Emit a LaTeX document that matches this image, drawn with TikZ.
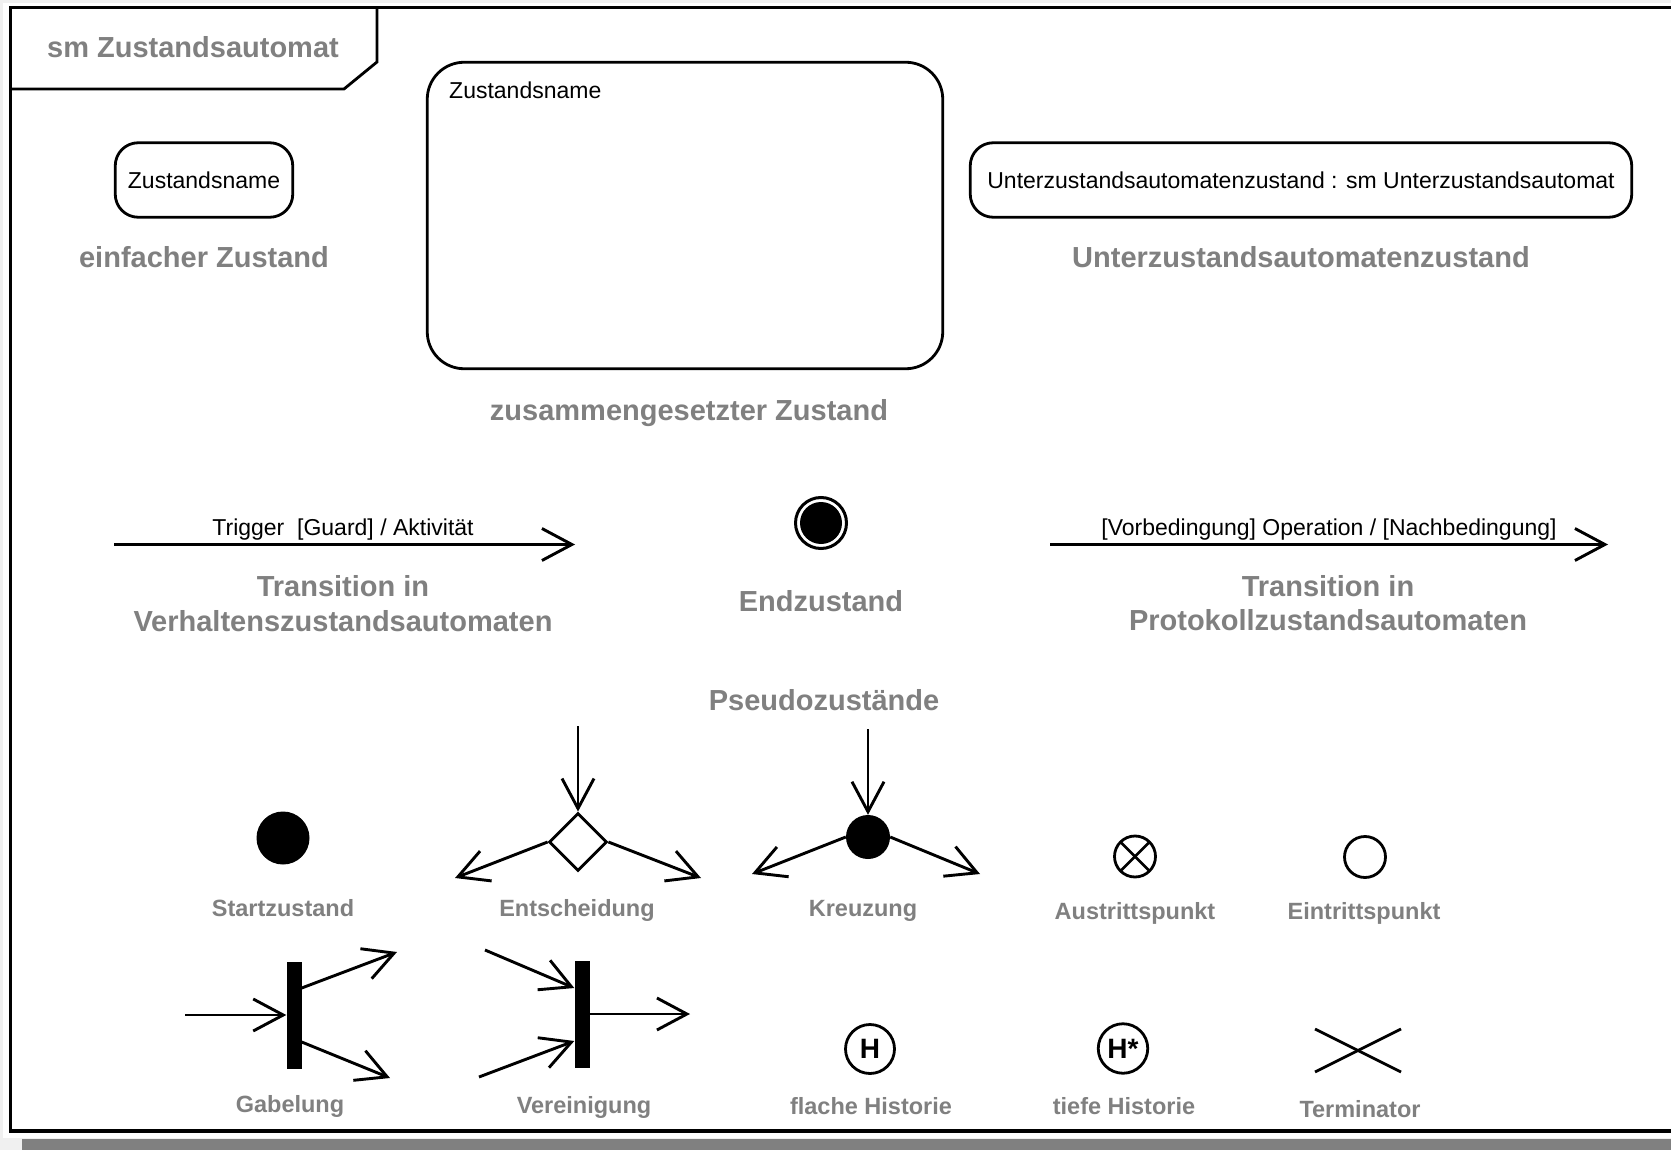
\documentclass[tikz,border=0pt]{standalone}
\usepackage{fontspec}
\setmainfont{Liberation Sans}
\usetikzlibrary{arrows.meta,shapes.geometric}
\definecolor{lblgray}{HTML}{808080}
\definecolor{bgc}{HTML}{F0F0F0}
\begin{document}
\begin{tikzpicture}[x=1pt,y=-1pt,
  lblbig/.style={font=\fontsize{29}{34}\selectfont\bfseries, text=lblgray, inner sep=0pt, text height=21pt, text depth=0pt},
  lblsmall/.style={font=\fontsize{23.5}{28}\selectfont\bfseries, text=lblgray, inner sep=0pt, text height=17pt, text depth=0pt},
  plaintxt/.style={font=\fontsize{23}{27}\selectfont, inner sep=0pt, text height=16.5pt, text depth=0pt},
  statebox/.style={draw, line width=2.8pt, inner sep=0pt, font=\fontsize{23}{27}\selectfont},
  arr/.style={line width=2.9pt, -{Straight Barb[length=30pt,width=32pt]}},
  ln/.style={line width=2.8pt},
]
\useasboundingbox (0,0) rectangle (1671,1150);
% background
\fill[bgc] (0,0) rectangle (1671,1150);
\fill[white] (3,3) rectangle (1671,1138);
\fill[lblgray] (22,1139) rectangle (1671,1150);
% frame
\draw[line width=3.2pt] (1675,7.5) -- (10.5,7.5) -- (10.5,1131) -- (1675,1131);
\draw[line width=2.8pt] (10.5,89) -- (344,89) -- (377,62) -- (377,7.5);
\node[lblbig] (title) at (193,47) {sm Zustandsautomat};

% simple state
\node[statebox, rounded corners=23pt, minimum width=177.5pt, minimum height=74.5pt] (simple) at (204,180) {Zustandsname};
\node[lblbig] (simplelbl) at (204,257) {einfacher Zustand};

% composite state
\node[statebox, rounded corners=37pt, minimum width=515.5pt, minimum height=306.5pt] (comp) at (685,215.5) {};
\node[plaintxt, anchor=west] (comptxt) at (449,90) {Zustandsname};
\node[lblbig] (complbl) at (689,410) {zusammengesetzter Zustand};

% submachine state
\node[statebox, rounded corners=23pt, minimum width=661.5pt, minimum height=74.5pt] (sub) at (1301,180) {Unterzustandsautomatenzustand : sm Unterzustandsautomat};
\node[lblbig] (sublbl) at (1301,257) {Unterzustandsautomatenzustand};

% transition 1
\coordinate (t1s) at (114,544.5);
\coordinate (t1e) at (575,544.5);
\draw[arr] (t1s) -- (t1e);
\node[plaintxt] (t1txt) at (343,527.5) {Trigger\ \ [Guard] / Aktivität};
\node[lblbig] (t1lblA) at (343,586) {Transition in};
\node[lblbig] (t1lblB) at (343,621) {Verhaltenszustandsautomaten};

% final state
\node[circle, draw, line width=3pt, minimum size=51pt, inner sep=0pt] (endst) at (821,523) {};
\node[circle, fill, minimum size=42pt, inner sep=0pt] (endin) at (821,523) {};
\node[lblbig] (endlbl) at (821,601) {Endzustand};

% transition 2
\coordinate (t2s) at (1050,544.5);
\coordinate (t2e) at (1608,544.5);
\draw[arr] (t2s) -- (t2e);
\node[plaintxt] (t2txt) at (1329,527.5) {[Vorbedingung] Operation / [Nachbedingung]};
\node[lblbig] (t2lblA) at (1328,586) {Transition in};
\node[lblbig] (t2lblB) at (1328,620) {Protokollzustandsautomaten};

% pseudo states
\node[lblbig] (pseudo) at (824,700) {Pseudozustände};

% initial
\node[circle, fill, minimum size=53pt, inner sep=0pt] (start) at (283,838) {};
\node[lblsmall] (startlbl) at (283,908) {Startzustand};

% decision
\node[diamond, draw, line width=2.8pt, minimum width=58pt, minimum height=58pt, inner sep=0pt, aspect=1] (dec) at (578,842) {};
\coordinate (decT) at (578,726);
\coordinate (decL) at (455,878);
\coordinate (decR) at (701,878);
\draw[arr] (decT) -- (dec.north);
\draw[arr] (dec.west) -- (decL);
\draw[arr] (dec.east) -- (decR);
\node[lblsmall] (declbl) at (577,907.5) {Entscheidung};

% junction
\node[circle, fill, minimum size=44pt, inner sep=0pt] (kr) at (868,837) {};
\coordinate (krT) at (868,729);
\coordinate (krL) at (752,874);
\coordinate (krR) at (980,874);
\draw[arr] (krT) -- (kr.north);
\draw[arr] (kr.west) -- (krL);
\draw[arr] (kr.east) -- (krR);
\node[lblsmall] (krlbl) at (863,907.5) {Kreuzung};

% exit point
\node[circle, draw, line width=2.8pt, minimum size=41pt, inner sep=0pt, outer sep=0pt] (exitp) at (1135,856.5) {};
\draw[ln] (exitp.north west) -- (exitp.south east);
\draw[ln] (exitp.north east) -- (exitp.south west);
\node[lblsmall] (exitlbl) at (1135,910.5) {Austrittspunkt};

% entry point
\node[circle, draw, line width=2.8pt, minimum size=41pt, inner sep=0pt] (entryp) at (1365,857) {};
\node[lblsmall] (entrylbl) at (1364,910.5) {Eintrittspunkt};

% fork
\node[fill, minimum width=15pt, minimum height=107pt, inner sep=0pt] (fork) at (294,1015) {};
\coordinate (forkIn) at (185,1015);
\coordinate (forkU) at (397,952);
\coordinate (forkD) at (390,1078);
\draw[arr] (forkIn) -- (fork.west);
\draw[arr] ([yshift=27pt]fork.east) -- (forkU);
\draw[arr] ([yshift=-27pt]fork.east) -- (forkD);
\node[lblsmall] (forklbl) at (290,1104) {Gabelung};

% join
\node[fill, minimum width=15pt, minimum height=107pt, inner sep=0pt] (join) at (582,1014) {};
\coordinate (joinA) at (485,950);
\coordinate (joinB) at (479,1077);
\coordinate (joinOut) at (690,1014);
\draw[arr] (joinA) -- ([yshift=26pt]join.west);
\draw[arr] (joinB) -- ([yshift=-27pt]join.west);
\draw[arr] (join.east) -- (joinOut);
\node[lblsmall] (joinlbl) at (584,1105) {Vereinigung};

% shallow history
\node[circle, draw, line width=2.8pt, minimum size=49pt, inner sep=0pt, font=\fontsize{28}{32}\selectfont\bfseries] (hflat) at (870,1049) {H};
\node[lblsmall] (hflatlbl) at (871,1106) {flache Historie};

% deep history
\node[circle, draw, line width=2.8pt, minimum size=49.5pt, inner sep=0pt, font=\fontsize{28}{32}\selectfont\bfseries] (hdeep) at (1123,1048.5) {H*};
\node[lblsmall] (hdeeplbl) at (1124,1106) {tiefe Historie};

% terminator
\coordinate (termA) at (1315,1029);
\coordinate (termB) at (1401,1072);
\coordinate (termC) at (1315,1072);
\coordinate (termD) at (1401,1029);
\draw[ln] (termA) -- (termB);
\draw[ln] (termC) -- (termD);
\node[lblsmall] (termlbl) at (1360,1109) {Terminator};
\end{tikzpicture}
\end{document}
